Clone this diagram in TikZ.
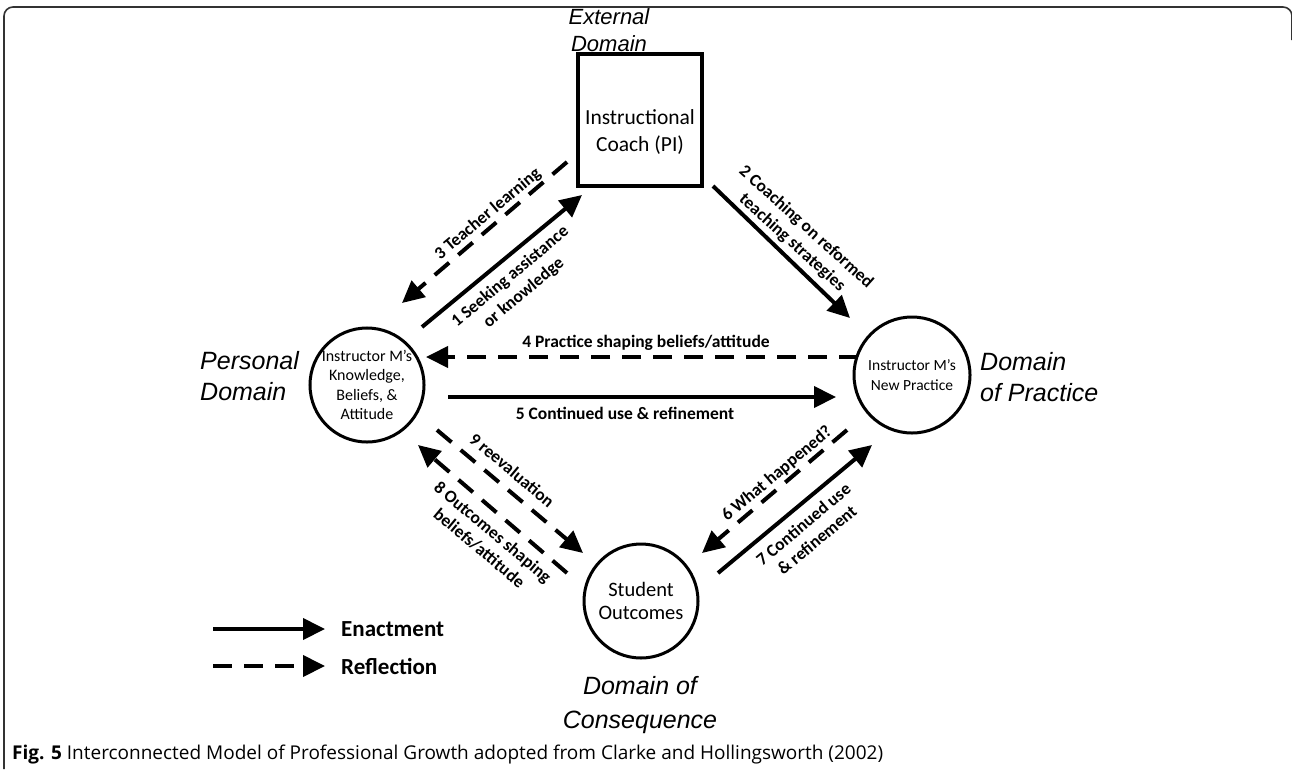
\documentclass[tikz,border=0pt]{standalone}
\usepackage{fontspec}
\setmainfont{Carlito}
\newfontfamily\arialf{Liberation Sans}
\newfontfamily\capfont{Open Sans}
\usetikzlibrary{arrows.meta}
\begin{document}
\begin{tikzpicture}[x=1pt,y=-1pt,
 conn/.style={line width=4pt, -{Triangle[length=22pt,width=21pt]}},
 refl/.style={conn, dash pattern=on 19pt off 12pt},
 circ/.style={circle, draw, line width=3pt, inner sep=0pt, align=center},
 lbl/.style={font=\bfseries\fontsize{17.5}{21}\selectfont, align=center, inner sep=0pt},
 dom/.style={font=\arialf\itshape\fontsize{25}{31}\selectfont, inner sep=0pt},
 legtxt/.style={font=\bfseries\fontsize{23}{26}\selectfont, anchor=west, inner sep=0pt},
]
\useasboundingbox (0,0) rectangle (1292,769);
% frame
\draw[line width=1.6pt, black!80, rounded corners=9pt] (4,769) -- (4,7) -- (1292,7) -- (1292,40);

% nodes
\node[draw, line width=3.5pt, minimum width=124pt, minimum height=132pt, inner sep=0pt] (coach) at (640,120) {};
\node[align=center, inner sep=0pt, font=\fontsize{21.5}{27}\selectfont] (coachT) at (640,132) {Instructional\\Coach (PI)};
\node[circ, minimum size=110pt, font=\fontsize{16}{19.5}\selectfont] (kb) at (367,385) {Instructor M’s\\Knowledge,\\Beliefs, \&\\Attitude};
\node[circ, minimum size=116pt, font=\fontsize{15.5}{19.5}\selectfont] (np) at (912,375) {Instructor M’s\\New Practice};
\node[circ, minimum size=114pt, font=\fontsize{20.5}{23}\selectfont] (so) at (641,601) {Student\\Outcomes};

% domain labels
\node[dom, align=center, font=\arialf\itshape\fontsize{22}{27}\selectfont] (dext) at (609,30) {External\\Domain};
\node[dom, align=left, anchor=west] (dpers) at (200,376) {Personal\\Domain};
\node[dom, align=left, anchor=west] (dprac) at (980,377) {Domain\\of Practice};
\node[dom, align=center, font=\arialf\itshape\fontsize{25}{34}\selectfont] (dcons) at (640,705) {Domain of\\Consequence};

% connector end points
\coordinate (e1s) at (422,327); \coordinate (e1t) at (582,195);
\coordinate (e3s) at (567,162); \coordinate (e3t) at (402,303);
\coordinate (e2s) at (713,186); \coordinate (e2t) at (850,318);
\coordinate (e4s) at (858,357); \coordinate (e4t) at (426,357);
\coordinate (e5s) at (448,397); \coordinate (e5t) at (836,397);
\coordinate (e9s) at (437,430); \coordinate (e9t) at (583,553);
\coordinate (e8s) at (567,573); \coordinate (e8t) at (418,445);
\coordinate (e6s) at (847,430); \coordinate (e6t) at (702,553);
\coordinate (e7s) at (718,573); \coordinate (e7t) at (872,445);

\draw[conn] (e1s) -- (e1t);
\draw[refl] (e3s) -- (e3t);
\draw[conn] (e2s) -- (e2t);
\draw[refl] (e4s) -- (e4t);
\draw[conn] (e5s) -- (e5t);
\draw[refl] (e9s) -- (e9t);
\draw[refl] (e8s) -- (e8t);
\draw[refl] (e6s) -- (e6t);
\draw[conn] (e7s) -- (e7t);

% labels
\node[lbl, rotate=40] (l3) at (488,214) {3 Teacher learning};
\node[lbl, rotate=40] (l1) at (517,285) {1 Seeking assistance\\or knowledge};
\node[lbl, rotate=-42] (l2) at (799,235) {2 Coaching on reformed\\teaching strategies};
\node[lbl] (l4) at (646,343) {4 Practice shaping beliefs/attitude};
\node[lbl] (l5) at (625,413) {5 Continued use \& refinement};
\node[lbl, rotate=40] (l6) at (777,474) {6 What happened?};
\node[lbl, rotate=40] (l7) at (810,532) {7 Continued use\\\& refinement};
\node[lbl, rotate=-40] (l9) at (512,470) {9 reevaluation};
\node[lbl, rotate=-40] (l8) at (486,540) {8 Outcomes shaping\\beliefs/attitude};

% legend
\coordinate (lg1s) at (213,629); \coordinate (lg1t) at (325,629);
\coordinate (lg2s) at (213,666); \coordinate (lg2t) at (325,666);
\draw[conn] (lg1s) -- (lg1t);
\draw[refl] (lg2s) -- (lg2t);
\node[legtxt] (len) at (341,629) {Enactment};
\node[legtxt] (lre) at (341,666) {Reflection};

% caption
\node[anchor=west, inner sep=0pt, font=\capfont\fontsize{19}{22}\selectfont] (cap) at (12,754) {\textbf{Fig. 5} Interconnected Model of Professional Growth adopted from Clarke and Hollingsworth (2002)};
\end{tikzpicture}
\end{document}
